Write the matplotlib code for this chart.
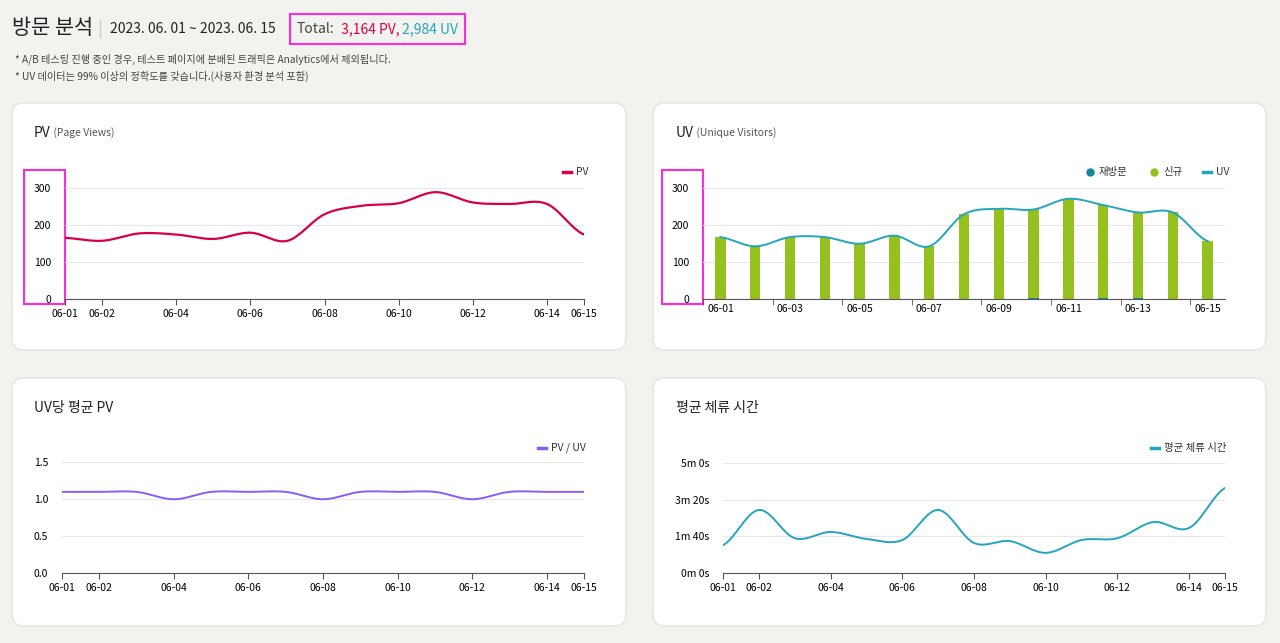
import numpy as np
import matplotlib.pyplot as plt
from matplotlib.patches import FancyBboxPatch, Rectangle

plt.rcParams['font.family'] = ['Noto Sans CJK KR', 'DejaVu Sans']

days = ['06-%02d' % d for d in range(1, 16)]
pv = [166, 158, 178, 175, 163, 180, 158, 230, 253, 260, 290, 262, 258, 258, 175]
uv = [168, 143, 168, 168, 150, 172, 143, 230, 245, 243, 272, 255, 235, 235, 157]
revisit = [0, 1, 0, 0, 0, 1, 0, 0, 0, 2, 0, 3, 2, 0, 0]
new = [u - r for u, r in zip(uv, revisit)]
pv_per_uv = [1.1, 1.1, 1.1, 1.0, 1.1, 1.1, 1.1, 1.0, 1.1, 1.1, 1.1, 1.0, 1.1, 1.1, 1.1]
dwell_sec = [76, 172, 95, 112, 93, 90, 172, 82, 87, 55, 90, 95, 139, 123, 232]

W, H = 1280, 643
BG = '#f2f2ee'
fig = plt.figure(figsize=(12.8, 6.43), dpi=100, facecolor=BG)


def px_axes(x0, y0, x1, y1, **kw):
    return fig.add_axes([x0 / W, 1 - y1 / H, (x1 - x0) / W, (y1 - y0) / H], **kw)


def smooth(x, y, n=20):
    # catmull-rom curve through the points, for drawing only
    x = np.asarray(x, float); y = np.asarray(y, float)
    px = np.concatenate([[2 * x[0] - x[1]], x, [2 * x[-1] - x[-2]]])
    py = np.concatenate([[y[0]], y, [y[-1]]])
    xs, ys = [], []
    t = np.linspace(0, 1, n, endpoint=False)
    for i in range(1, len(px) - 2):
        for arr, out in ((px, xs), (py, ys)):
            p0, p1, p2, p3 = arr[i - 1:i + 3]
            out.extend(0.5 * ((2 * p1) + (-p0 + p2) * t + (2 * p0 - 5 * p1 + 4 * p2 - p3) * t ** 2
                              + (-p0 + 3 * p1 - 3 * p2 + p3) * t ** 3))
    xs.append(x[-1]); ys.append(y[-1])
    return np.array(xs), np.array(ys)


bgax = fig.add_axes([0, 0, 1, 1]); bgax.set_xlim(0, W); bgax.set_ylim(H, 0); bgax.axis('off')
for (x0, y0, x1, y1) in [(12, 103, 626, 350), (653, 103, 1266, 350), (12, 378, 626, 626), (653, 378, 1266, 626)]:
    bgax.add_patch(FancyBboxPatch((x0, y0), x1 - x0, y1 - y0, boxstyle='round,pad=0,rounding_size=12',
                                  fc='white', ec='#e3e3e0', lw=1))

bgax.text(12, 28, '방문 분석', fontsize=15, va='center', color='#222')
bgax.plot([100, 100], [20, 37], color='#ccc', lw=1)
bgax.text(110, 29, '2023. 06. 01 ~ 2023. 06. 15', fontsize=10, va='center', color='#222')
t1 = bgax.text(297, 29, 'Total:', fontsize=10, va='center', color='#444')
t2 = bgax.annotate('  3,164 PV,', xycoords=t1, xy=(1, 0.5), va='center', fontsize=10, color='#e0004d')
bgax.annotate(' 2,984 UV', xycoords=t2, xy=(1, 0.5), va='center', fontsize=10, color='#23a6bd')
bgax.add_patch(Rectangle((290, 14), 175, 30, fill=False, ec='#ff2bd6', lw=1.5))
bgax.text(15, 59, '* A/B 테스팅 진행 중인 경우, 테스트 페이지에 분배된 트래픽은 Analytics에서 제외됩니다.', fontsize=7.3, va='center', color='#444')
bgax.text(15, 76, '* UV 데이터는 99% 이상의 정확도를 갖습니다.(사용자 환경 분석 포함)', fontsize=7.3, va='center', color='#444')

titles = [(34, 133, 'PV', ' (Page Views)'), (676, 133, 'UV', ' (Unique Visitors)'),
          (34, 408, 'UV당 평균 PV', ''), (676, 408, '평균 체류 시간', '')]
for x, y, t, s in titles:
    tt = bgax.text(x, y, t, fontsize=10, va='center', color='#222')
    if s:
        bgax.annotate(s, xycoords=tt, xy=(1, 0.5), va='center', fontsize=7.5, color='#555')
for bx in (24, 662):
    bgax.add_patch(Rectangle((bx, 170), 41, 134, fill=False, ec='#ff2bd6', lw=1.5))


def style(ax, yticks, ylabels, ymax):
    ax.set_ylim(0, ymax)
    ax.set_yticks(yticks, ylabels)
    ax.grid(axis='y', color='#e8e8e8', lw=0.8)
    ax.set_axisbelow(True)
    for s in ('top', 'right', 'left'):
        ax.spines[s].set_visible(False)
    ax.spines['bottom'].set_color('#555')
    ax.tick_params(axis='y', length=0, labelsize=7.5, pad=10)
    ax.tick_params(axis='x', labelsize=7.5, length=4, color='#555')
    ax.patch.set_alpha(0)


def legend_marker(x, y, color, label, kind='line'):
    if kind == 'line':
        bgax.plot([x, x + 8], [y, y], color=color, lw=2.5)
    else:
        bgax.plot(x + 4, y, 'o', color=color, ms=5)
    bgax.text(x + 13, y, label, fontsize=7.5, va='center', color='#333')


x = np.arange(15)
pt_ticks = [0, 1, 3, 5, 7, 9, 11, 13, 14]

# PV
ax = px_axes(65, 180, 584, 299)
sx, sy = smooth(x, pv)
ax.plot(sx, sy, color='#d6004a', lw=1.6)
ax.set_xlim(0, 14)
ax.set_xticks(pt_ticks, [days[i] for i in pt_ticks])
style(ax, [0, 100, 200, 300], ['0', '100', '200', '300'], 323)
legend_marker(563, 172, '#d6004a', 'PV')

# UV
ax = px_axes(703, 180, 1225, 299)
ax.bar(x, new, width=0.3, color='#95c11f', bottom=revisit)
ax.bar(x, revisit, width=0.3, color='#13879e')
sx, sy = smooth(x, uv)
ax.plot(sx, sy, color='#23a6bd', lw=1.4)
ax.set_xlim(-0.5, 14.5)
ut = list(range(0, 15, 2))
ax.set_xticks(ut, [days[i] for i in ut])
ax.set_xticks(np.arange(-0.5, 15, 2), minor=True)
style(ax, [0, 100, 200, 300], ['0', '100', '200', '300'], 323)
ax.tick_params(axis='x', which='major', length=0)
ax.tick_params(axis='x', which='minor', length=4, color='#555')
legend_marker(1086, 172, '#13879e', '재방문', 'dot')
legend_marker(1150, 172, '#95c11f', '신규', 'dot')
legend_marker(1203, 172, '#23a6bd', 'UV')

# PV / UV
ax = px_axes(62, 455, 584, 573)
sx, sy = smooth(x, pv_per_uv)
ax.plot(sx, sy, color='#8b5cf6', lw=1.4)
ax.set_xlim(0, 14)
ax.set_xticks(pt_ticks, [days[i] for i in pt_ticks])
style(ax, [0, 0.5, 1.0, 1.5], ['0.0', '0.5', '1.0', '1.5'], 1.6)
legend_marker(538, 448, '#8b5cf6', 'PV / UV')

# dwell time
ax = px_axes(723, 455, 1225, 573)
sx, sy = smooth(x, dwell_sec)
ax.plot(sx, sy, color='#23a6bd', lw=1.4)
ax.set_xlim(0, 14)
ax.set_xticks(pt_ticks, [days[i] for i in pt_ticks])
style(ax, [0, 100, 200, 300], ['0m 0s', '1m 40s', '3m 20s', '5m 0s'], 322)
legend_marker(1151, 448, '#23a6bd', '평균 체류 시간')

fig.savefig('out.png', dpi=100, facecolor=BG)
